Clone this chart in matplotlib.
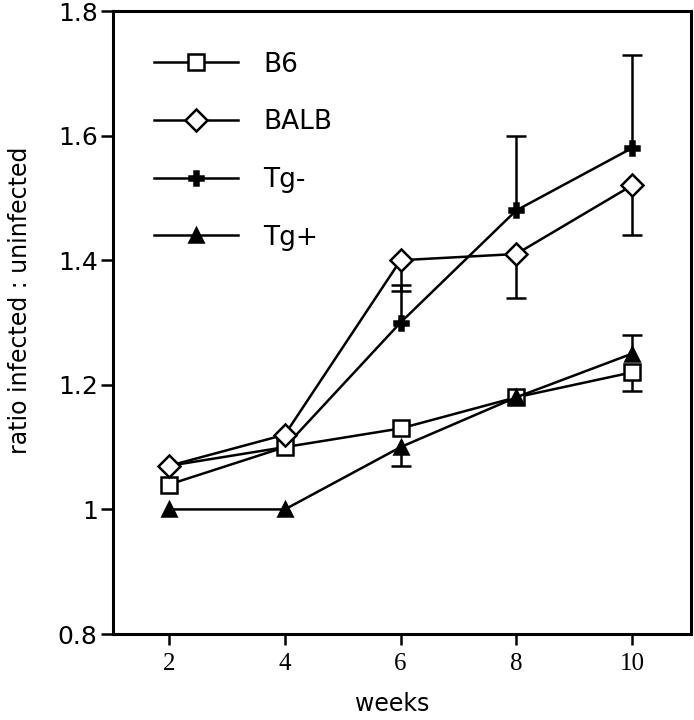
import matplotlib.pyplot as plt
import numpy as np

weeks = [2, 4, 6, 8, 10]
b6 = [1.04, 1.10, 1.13, 1.18, 1.22]
balb = [1.07, 1.12, 1.40, 1.41, 1.52]
tg_minus = [1.07, 1.10, 1.30, 1.48, 1.58]
tg_plus = [1.00, 1.00, 1.10, 1.18, 1.25]

# one-sided error bars: signed length (negative = drawn downwards), 0 = none
b6_err = [0, 0, 0, 0, -0.03]
balb_err = [0, 0, -0.05, -0.07, -0.08]
tgm_err = [0, 0, 0.06, 0.12, 0.15]
tgp_err = [0, 0, -0.03, 0, 0.03]

yticks = [0.8, 1.0, 1.2, 1.4, 1.6, 1.8]
ytick_labels = ['0.8', '1', '1.2', '1.4', '1.6', '1.8']

fig = plt.figure(figsize=(6.94, 7.2), dpi=100)
ax = fig.add_axes([0.1628, 0.1194, 0.8329, 0.8653])

series = [
    ('Tg-', tg_minus, tgm_err, dict(marker='P', ms=10, mfc='black'), 2),
    ('B6', b6, b6_err, dict(marker='s', ms=11, mfc='white'), 3),
    ('BALB', balb, balb_err, dict(marker='D', ms=11, mfc='white'), 3),
    ('Tg+', tg_plus, tgp_err, dict(marker='^', ms=10, mfc='black'), 4),
]

for name, vals, err, style, z in series:
    x = np.array(weeks, dtype=float)
    v = np.array(vals)
    e = np.array(err)
    m = e != 0
    ax.vlines(x[m], v[m], v[m] + e[m], color='black', lw=1.8, zorder=1)
    ax.plot(x[m], v[m] + e[m], ls='none', marker='_', ms=14, mew=1.8, color='black', zorder=1)
    ax.plot(weeks, vals, color='black', lw=1.8, mec='black', mew=1.8, zorder=z, **style)

handles = {}
for name, vals, err, style, z in series:
    handles[name] = ax.plot([], [], color='black', lw=1.8, mec='black', mew=1.8, **style)[0]
order = ['B6', 'BALB', 'Tg-', 'Tg+']
ax.legend([handles[n] for n in order], order, loc='upper left', bbox_to_anchor=(0.071, 0.935),
          frameon=False, handlelength=3.2, handletextpad=0.95, labelspacing=1.2,
          borderpad=0, borderaxespad=0, numpoints=1, prop={'family': 'DejaVu Sans', 'size': 19})

ax.set_xlim(1.03, 11.02)
ax.set_ylim(0.8, 1.8)
ax.set_xticks(weeks)
ax.set_xticklabels([str(w) for w in weeks], family='Liberation Serif', fontsize=18)
ax.set_yticks(yticks)
ax.set_yticklabels(ytick_labels, family='DejaVu Sans', fontsize=18)
ax.tick_params(axis='y', direction='out', length=9, width=1.8, pad=2)
ax.tick_params(axis='x', direction='out', length=8, width=1.8, pad=6)
for s in ax.spines.values():
    s.set_linewidth(2.2)

ax.set_xlabel('weeks', fontsize=17, family='DejaVu Sans')
ax.set_ylabel('ratio infected : uninfected', fontsize=17, family='DejaVu Sans')
ax.xaxis.set_label_coords(0.483, -0.093)
ax.yaxis.set_label_coords(-0.140, 0.536)

fig.savefig('out.png', dpi=100)
